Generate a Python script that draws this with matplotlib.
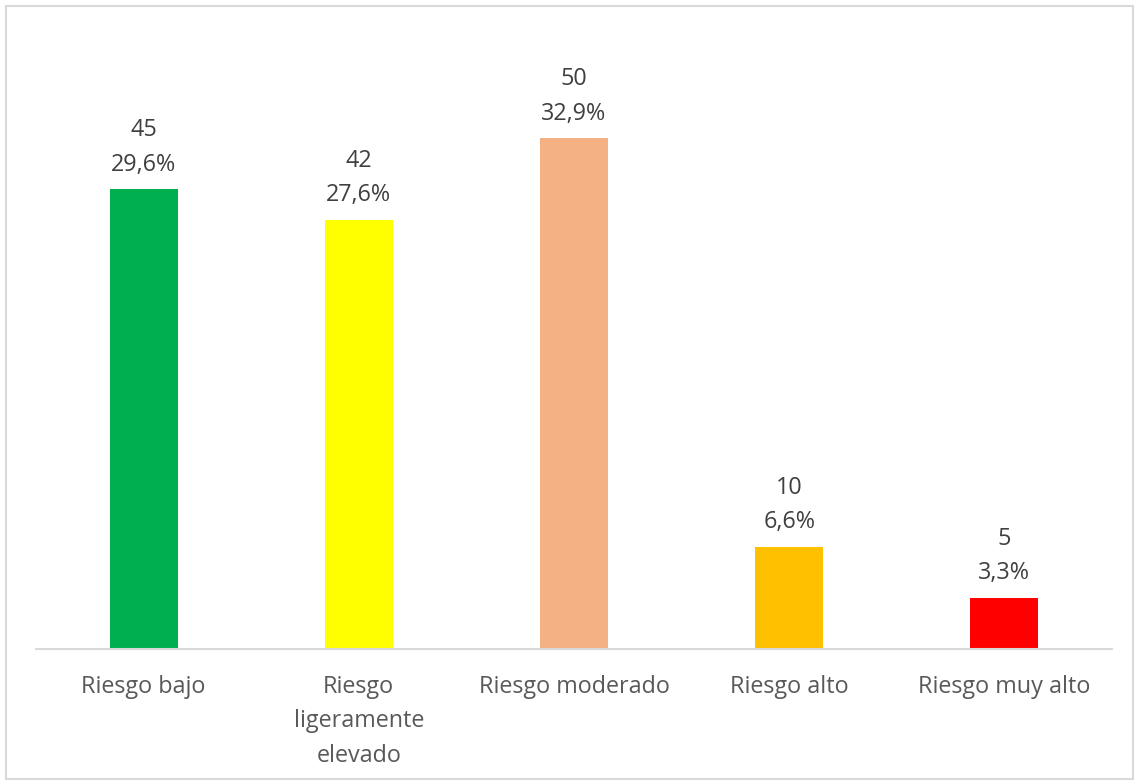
import matplotlib
matplotlib.use("Agg")
import matplotlib.pyplot as plt
from matplotlib.patches import Rectangle

# Chart data
categories = ["Riesgo bajo", "Riesgo\nligeramente\nelevado", "Riesgo moderado",
              "Riesgo alto", "Riesgo muy alto"]
counts = [45, 42, 50, 10, 5]
percents = ["29,6%", "27,6%", "32,9%", "6,6%", "3,3%"]
colors = ["#00B050", "#FFFF00", "#F4B183", "#FFC000", "#FF0000"]

plt.rcParams["font.family"] = ["Open Sans", "DejaVu Sans"]

fig = plt.figure(figsize=(11.37, 7.83), dpi=100)
W, H = 1137, 783

# light grey chart-area border
fig.patches.append(Rectangle((6 / W, 4 / H), 1127 / W, 773 / H, transform=fig.transFigure,
                             fill=False, edgecolor="#D9D9D9", linewidth=1.5))

ax = fig.add_axes([36 / W, (H - 649) / H, 1076 / W, 613 / H])
x = range(len(categories))
ax.bar(x, counts, width=0.316, color=colors, zorder=2)

ax.set_xlim(-0.5, 4.5)
ax.set_ylim(0, 60)

for xi, c, p in zip(x, counts, percents):
    ax.annotate(f"{c}\n{p}", (xi, c), xytext=(0, 9), textcoords="offset points",
                ha="center", va="bottom", fontsize=16.8, color="#404040", linespacing=1.58)

for s in ["top", "right", "left"]:
    ax.spines[s].set_visible(False)
ax.spines["bottom"].set_color("#D9D9D9")
ax.spines["bottom"].set_linewidth(1.5)
ax.set_yticks([])
ax.set_xticks(list(x))
ax.set_xticklabels(categories, fontsize=16.8, color="#595959", linespacing=1.58, va="top")
ax.tick_params(axis="x", length=0, pad=18.5)

fig.savefig("out.png", dpi=100)
